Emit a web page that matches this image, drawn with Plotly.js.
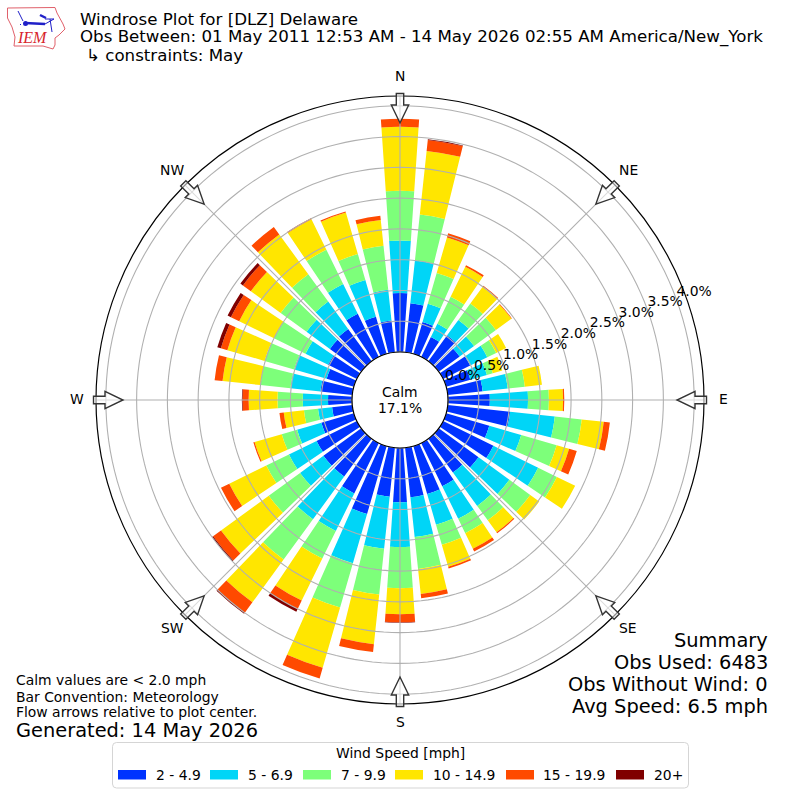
<!DOCTYPE html>
<html><head><meta charset="utf-8">
<script src="https://cdn.plot.ly/plotly-3.0.1.min.js"></script>
<style>html,body{margin:0;padding:0;background:#fff}#c{width:800px;height:800px}</style></head>
<body><div id="c"></div>
<script>
const directions=[0,10,20,30,40,50,60,70,80,90,100,110,120,130,140,150,160,170,180,190,200,210,220,230,240,250,260,270,280,290,300,310,320,330,340,350];
const speed2to4=[.96,.80,.54,.36,.52,.42,.49,.41,.57,.68,1.02,.73,.91,.80,.68,.78,.81,.81,.88,.80,1.15,.91,.76,.76,.73,.55,.33,.39,.52,.46,.52,.63,.65,.78,.63,.52];
const speed5to6=[.85,.70,.31,.24,.31,.29,.31,.28,.41,.62,.73,.54,.81,.62,.67,.59,.52,.65,.73,.85,.83,.68,.86,.47,.50,.41,.23,.41,.49,.55,.41,.47,.55,.54,.62,.50];
const speed7to9=[.81,.75,.52,.49,.33,.44,.16,.10,.28,.34,.44,.60,.34,.42,.29,.26,.34,.52,.67,.75,.75,.50,.81,.63,.41,.26,.23,.41,.49,.50,.57,.52,.55,.62,.44,.72];
const speed10to14=[1.04,1.04,.60,.54,.34,.31,.18,.16,.28,.23,.36,.21,.33,.18,.24,.28,.37,.41,.42,.81,1.02,.76,.86,.96,.67,.46,.33,.47,.62,.63,.63,.60,.80,.55,.70,.42];
const speed15to19=[.13,.18,.07,.03,.02,.01,0,0,0,.02,.10,.13,0,0,.02,.05,.03,.07,.13,.13,.18,.15,.21,.16,.15,.02,.07,.10,.13,.11,.15,.16,.15,.02,.02,.07];
const speed20up=[0,.01,0,0,0,0,0,0,0,0,0,0,0,0,0,0,0,0,.01,0,0,.05,.02,.02,0,0,0,.01,0,.06,.06,.05,0,0,0,0];
const speedBins=[speed2to4,speed5to6,speed7to9,speed10to14,speed15to19,speed20up];
const speedLabels=["2 - 4.9","5 - 6.9","7 - 9.9","10 - 14.9","15 - 19.9","20+"];
const speedColors=["#0033ff","#00d5f7","#7dff7a","#ffe600","#ff4a00","#800000"];
const compassAngles=[0,45,90,135,180,225,270,315];
const compassLabels=["N","NE","E","SE","S","SW","W","NW"];
const radialTicks=[0,.5,1,1.5,2,2.5,3,3.5,4];
const radialMax=4.16;

const F="DejaVu Sans";
const px=x=>x/800, py=y=>1-y/800;
const GRID="#b0b0b0";
const traces=speedBins.map((v,i)=>({type:"barpolar",r:v,theta:directions,width:directions.map(()=>7.8),name:speedLabels[i],
  marker:{color:speedColors[i],line:{width:0}},hoverinfo:"skip",showlegend:false}));
// grid drawn over the bars, as in the reference
const ringTheta=[];for(let a=0;a<=360;a+=2)ringTheta.push(a);
radialTicks.forEach(t=>traces.push({type:"scatterpolar",mode:"lines",r:ringTheta.map(()=>t),theta:ringTheta,line:{color:GRID,width:1.1},hoverinfo:"skip",showlegend:false}));
compassAngles.forEach(a=>traces.push({type:"scatterpolar",mode:"lines",r:[0,radialMax],theta:[a,a],line:{color:GRID,width:1.1},hoverinfo:"skip",showlegend:false}));
// radial tick labels
traces.push({type:"scatterpolar",mode:"text",r:radialTicks,theta:radialTicks.map(()=>70),text:radialTicks.map(t=>t.toFixed(1)+"%"),
  textposition:"top right",textfont:{family:F,size:13.9,color:"#000"},cliponaxis:false,hoverinfo:"skip",showlegend:false});

const CX=400,CY=400;
function rot(a,r,w){const t=a*Math.PI/180;return [CX+r*Math.sin(t)+w*Math.cos(t),CY-r*Math.cos(t)+w*Math.sin(t)];}
function P(pts,close){return pts.map((p,i)=>(i?"L":"M")+px(p[0]).toFixed(5)+","+py(p[1]).toFixed(5)).join(" ")+(close?" Z":"");}
const shapes=[];
compassAngles.forEach(a=>{
  const pts=[[306.5,-3.7],[295,-3.7],[295,-8.7],[277,0],[295,8.7],[295,3.7],[306.5,3.7]].map(q=>rot(a,q[0],q[1]));
  shapes.push({type:"path",xref:"paper",yref:"paper",path:P(pts,true),fillcolor:"rgba(255,255,255,0.55)",line:{color:"#333333",width:1.4},layer:"above"});
});
// legend
const swX=[118,210,303,395,506,616], lbX=[155.6,247.5,340.6,432.6,543.3,654];
const R=4;
const bx0=112.5,bx1=688.5,by0=742.5,by1=788;
shapes.push({type:"path",xref:"paper",yref:"paper",layer:"above",fillcolor:"#fff",line:{color:"#d5d5d5",width:1},
 path:`M${px(bx0+R)},${py(by0)} L${px(bx1-R)},${py(by0)} Q${px(bx1)},${py(by0)} ${px(bx1)},${py(by0+R)} L${px(bx1)},${py(by1-R)} Q${px(bx1)},${py(by1)} ${px(bx1-R)},${py(by1)} L${px(bx0+R)},${py(by1)} Q${px(bx0)},${py(by1)} ${px(bx0)},${py(by1-R)} L${px(bx0)},${py(by0+R)} Q${px(bx0)},${py(by0)} ${px(bx0+R)},${py(by0)} Z`});
speedColors.forEach((c,i)=>shapes.push({type:"rect",xref:"paper",yref:"paper",layer:"above",x0:px(swX[i]),x1:px(swX[i]+28),y0:py(770),y1:py(779.5),fillcolor:c,line:{width:0}}));
// logo
const logoOutline=[[7.5,8],[55,7.5],[57,13],[63,24],[65,29],[59,35],[55,38],[55,45],[53,49],[43,46],[14,46],[15,37],[12,27],[7.5,18]];
shapes.push({type:"path",xref:"paper",yref:"paper",layer:"above",path:P(logoOutline,true),fillcolor:"rgba(0,0,0,0)",line:{color:"#e0606a",width:1}});
[[[25,23],[45,24]],[[45,24],[54,19]],[[18,11],[23,21]],[[40,15],[46,18]],[[45,19],[54,19]],[[50,19],[52,32]],[[20,25],[21,24]]].forEach((l,i)=>
  shapes.push({type:"path",xref:"paper",yref:"paper",layer:"above",path:P(l,false),line:{color:"#2020c8",width:i==0||i==3?2.5:1}}));
shapes.push({type:"circle",xref:"paper",yref:"paper",layer:"above",x0:px(23),x1:px(28),y0:py(21),y1:py(26),fillcolor:"#2020c8",line:{width:0}});

const ann=[];
function T(text,x,y,size,anchor,color,family){
  const dx=anchor==="right"?1:(anchor==="center"?0:-1);
  ann.push({text,xref:"paper",yref:"paper",x:px(x+dx),y:py(y),xanchor:anchor||"left",yanchor:"middle",showarrow:false,borderpad:0,
  font:{family:family||F,size,color:color||"#000"}});}
T("Windrose Plot for [DLZ] Delaware",80,19.5,16.67);
T("Obs Between: 01 May 2011 12:53 AM - 14 May 2026 02:55 AM America/New_York",80,37,16.67);
T("↳ constraints: May",86,55.5,16.67);
T("Calm",400,391.5,13.9,"center");
T("17.1%",400,407.5,13.9,"center");
T("Summary",768,640,19.4,"right");
T("Obs Used: 6483",768,662,19.4,"right");
T("Obs Without Wind: 0",768,684,19.4,"right");
T("Avg Speed: 6.5 mph",768,706,19.4,"right");
T("Calm values are < 2.0 mph",16,680,13.9);
T("Bar Convention: Meteorology",16,696.5,13.9);
T("Flow arrows relative to plot center.",16,712,13.9);
T("Generated: 14 May 2026",16,730,19.4);
T("Wind Speed [mph]",400,753,13.9,"center");
speedLabels.forEach((s,i)=>T(s,lbX[i],774.5,13.9));
T("<i>IEM</i>",17,38,16,"left","#d8242c","Liberation Serif");
const compassX=[400,628,723,628,400,172,77,172], compassY=[76,170,399,628,722,628,399,170];
compassLabels.forEach((s,i)=>T(s,compassX[i],compassY[i],13.9,"center"));

Plotly.newPlot("c",traces,{
  width:800,height:800,margin:{l:0,r:0,t:0,b:0},paper_bgcolor:"#fff",showlegend:false,
  font:{family:F,size:13.9,color:"#000"},
  polar:{domain:{x:[0.12,0.88],y:[0.12,0.88]},hole:48/304,barmode:"stack",bgcolor:"#fff",
    angularaxis:{direction:"clockwise",rotation:90,tickmode:"array",tickvals:compassAngles,ticktext:compassLabels,ticks:"",showticklabels:false,
      showline:true,linecolor:"#000",linewidth:1.2,showgrid:false},
    radialaxis:{range:[0,radialMax],angle:20,showticklabels:false,ticks:"",showline:false,showgrid:false}},
  shapes,annotations:ann
},{displayModeBar:false,staticPlot:true});
</script></body></html>
